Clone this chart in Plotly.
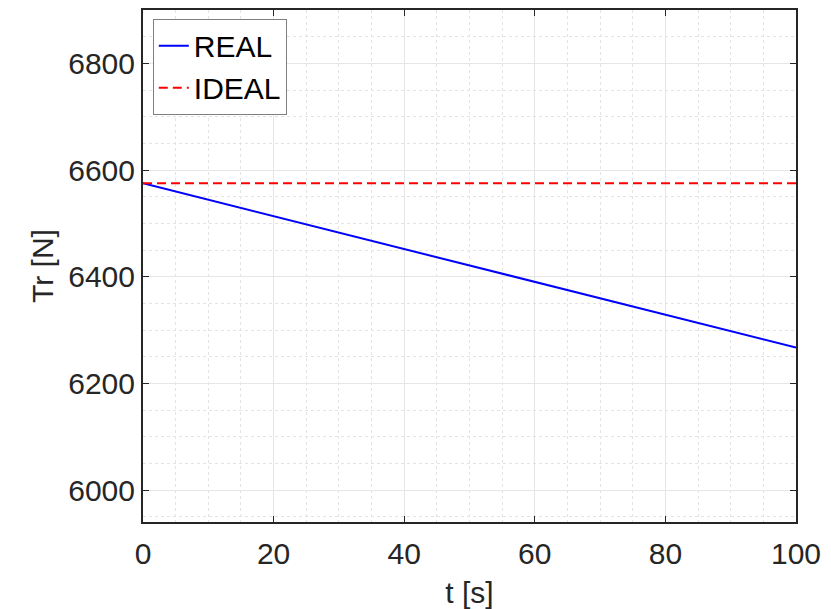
import plotly.graph_objects as go

t_vals = [0, 100]
real_vals = [6575, 6267]
ideal_vals = [6575, 6575]
x_ticks = [0, 20, 40, 60, 80, 100]
y_ticks = [6000, 6200, 6400, 6600, 6800]

FONT = "Liberation Sans, Arial, sans-serif"
TXT = "#262626"

fig = go.Figure()
fig.add_trace(go.Scatter(x=t_vals, y=real_vals, mode="lines", name="REAL",
                         line=dict(color="#0000ff", width=2)))
fig.add_trace(go.Scatter(x=t_vals, y=ideal_vals, mode="lines", name="IDEAL",
                         line=dict(color="#ff0000", width=2, dash="9px,5px")))

axis_common = dict(
    showline=True, linecolor=TXT, linewidth=2, mirror="ticks",
    ticks="inside", ticklen=6, tickcolor=TXT, tickwidth=1,
    showgrid=True, gridcolor="#e6e6e6", gridwidth=1,
    zeroline=False, automargin=False,
    tickfont=dict(family=FONT, size=30, color=TXT),
)

fig.update_xaxes(
    range=[0, 100], tickvals=x_ticks, ticktext=[str(v) for v in x_ticks],
    ticklabelstandoff=4,
    title=dict(text="t [s]", font=dict(family=FONT, size=30, color=TXT), standoff=14),
    minor=dict(dtick=5, showgrid=True, gridcolor="#e3e3e3", griddash="dot", gridwidth=1, ticks=""),
    **axis_common,
)
fig.update_yaxes(
    range=[5940, 6900], tickvals=y_ticks, ticktext=[str(v) for v in y_ticks],
    title=dict(text="Tr [N]", font=dict(family=FONT, size=30, color=TXT), standoff=6),
    minor=dict(dtick=50, showgrid=True, gridcolor="#e3e3e3", griddash="dot", gridwidth=1, ticks=""),
    **axis_common,
)

fig.update_layout(
    width=831, height=609,
    margin=dict(l=143, r=35, t=10, b=87),
    plot_bgcolor="white", paper_bgcolor="white",
    showlegend=True,
    legend=dict(x=0.015, y=0.983, xanchor="left", yanchor="top",
                bgcolor="white", bordercolor="#7f7f7f", borderwidth=1,
                font=dict(family=FONT, size=30, color="black"),
                itemwidth=30, tracegroupgap=0),
)

fig.write_html("out.html")
